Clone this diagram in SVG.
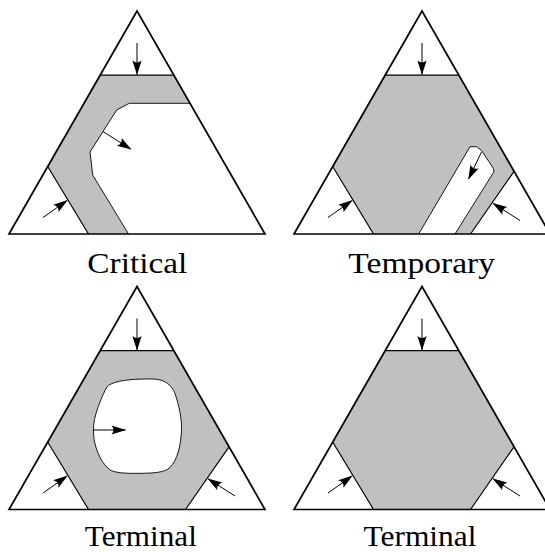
<svg xmlns="http://www.w3.org/2000/svg" width="545" height="552" viewBox="0 0 545 552">
  <style>
    .tri { fill: none; stroke: #000; stroke-width: 1.7; stroke-linejoin: miter; }
    .region { fill: #c0c0c0; stroke: none; }
    .cut { fill: none; stroke: #000; stroke-width: 1.2; }
    .edge { fill: none; stroke: #000; stroke-width: 0.9; stroke-linejoin: round; }
    .hole { fill: #fff; stroke: #000; stroke-width: 0.9; }
    .arrow { fill: none; stroke: #000; stroke-width: 1; marker-end: url(#head); }
    .label { font-family: "Liberation Serif", "DejaVu Serif", serif; font-size: 29px; fill: #000; text-anchor: middle; }
  </style>
  <defs>
    <marker id="head" markerUnits="userSpaceOnUse" markerWidth="16" markerHeight="12" viewBox="-15 -6 16 12" refX="0" refY="0" orient="auto" overflow="visible">
      <path d="M0.5,0 L-14,-4.6 Q-10,0 -14,4.6 Z" fill="#000"/>
    </marker>
  </defs>

  <!-- panel: Critical -->
  <g id="critical">
    <path class="region" d="M100.1,75.2 H173.9 L190,103.3 H129.3 L116.7,110 L90,152 L92.7,175 L128.5,234 H88.5 L47.7,166.5 Z"/>
    <path class="edge" d="M190,103.3 H129.3 L116.7,110 L90,152 L92.7,175 L128.5,234"/>
    <path class="cut" d="M100.1,75.2 H173.9 M47.7,166.5 L88.5,234"/>
    <polygon class="tri" points="137,11 9,234 265,234"/>
    <g id="critical-arrows">
      <line class="arrow" x1="137" y1="43" x2="137" y2="74.5"/>
      <line class="arrow" x1="43" y1="217.5" x2="67.3" y2="200.4"/>
      <line class="arrow" x1="103" y1="131.5" x2="131" y2="149.3"/>
    </g>
    <text class="label" x="137.3" y="273" textLength="100" lengthAdjust="spacingAndGlyphs">Critical</text>
  </g>

  <!-- panel: Temporary -->
  <g id="temporary" transform="translate(285,0)">
    <path class="region" d="M100.1,75.2 H173.9 L229,171.3 L185.5,234 H170 L209,171.7 L208.3,168.3 L196.7,150.7 L191.7,146.7 H185 L133.7,234 H88.5 L47.7,166.5 Z"/>
    <path class="edge" d="M170,234 L209,171.7 L208.3,168.3 L196.7,150.7 L191.7,146.7 H185 L133.7,234"/>
    <path class="cut" d="M100.1,75.2 H173.9 M47.7,166.5 L88.5,234 M229,171.3 L185.5,234"/>
    <polygon class="tri" points="137,11 9,234 265,234"/>
    <g id="temporary-arrows">
      <line class="arrow" x1="137" y1="43" x2="137" y2="74.5"/>
      <line class="arrow" x1="43" y1="217.5" x2="67.3" y2="200.4"/>
      <line class="arrow" x1="235" y1="220.5" x2="208" y2="203.3"/>
      <line class="arrow" x1="196.5" y1="152" x2="183.5" y2="179"/>
    </g>
    <text class="label" x="136.7" y="273" textLength="146.7" lengthAdjust="spacingAndGlyphs">Temporary</text>
  </g>

  <!-- panel: Terminal (with hole) -->
  <g id="terminal-hole" transform="translate(0,275.5)">
    <path class="region" d="M100.1,75.2 H173.9 L229,171.3 L185.5,234 H88.5 L47.7,166.5 Z"/>
    <path class="hole" d="M111,108.5 C120,104 138,103.3 153,103.5 C165,103.7 172,110 175,118 C179,130 182,143 181.5,155 C181,170 177,185 170,192 C164,197.5 152,197.5 143,197.8 C130,198 118,198 111,195 C102,189 96,176 94,163 C92.8,154 93.5,146 96,138 C99,128 103,119 106,113 C107.5,110.5 109,109.3 111,108.5 Z"/>
    <path class="cut" d="M100.1,75.2 H173.9 M47.7,166.5 L88.5,234 M229,171.3 L185.5,234"/>
    <polygon class="tri" points="137,11 9,234 265,234"/>
    <g id="terminal-hole-arrows">
      <line class="arrow" x1="137" y1="43" x2="137" y2="74.5"/>
      <line class="arrow" x1="43" y1="217.5" x2="67.3" y2="200.4"/>
      <line class="arrow" x1="235" y1="220.5" x2="208" y2="203.3"/>
      <line class="arrow" x1="93.8" y1="154.5" x2="125.5" y2="154.5"/>
    </g>
    <text class="label" x="140.8" y="270.5" textLength="112" lengthAdjust="spacingAndGlyphs">Terminal</text>
  </g>

  <!-- panel: Terminal (full) -->
  <g id="terminal-full" transform="translate(285,275.5)">
    <path class="region" d="M100.1,75.2 H173.9 L229,171.3 L185.5,234 H88.5 L47.7,166.5 Z"/>
    <path class="cut" d="M100.1,75.2 H173.9 M47.7,166.5 L88.5,234 M229,171.3 L185.5,234"/>
    <polygon class="tri" points="137,11 9,234 265,234"/>
    <g id="terminal-full-arrows">
      <line class="arrow" x1="137" y1="43" x2="137" y2="74.5"/>
      <line class="arrow" x1="43" y1="217.5" x2="67.3" y2="200.4"/>
      <line class="arrow" x1="235" y1="220.5" x2="208" y2="203.3"/>
    </g>
    <text class="label" x="135" y="270.5" textLength="113" lengthAdjust="spacingAndGlyphs">Terminal</text>
  </g>
</svg>
